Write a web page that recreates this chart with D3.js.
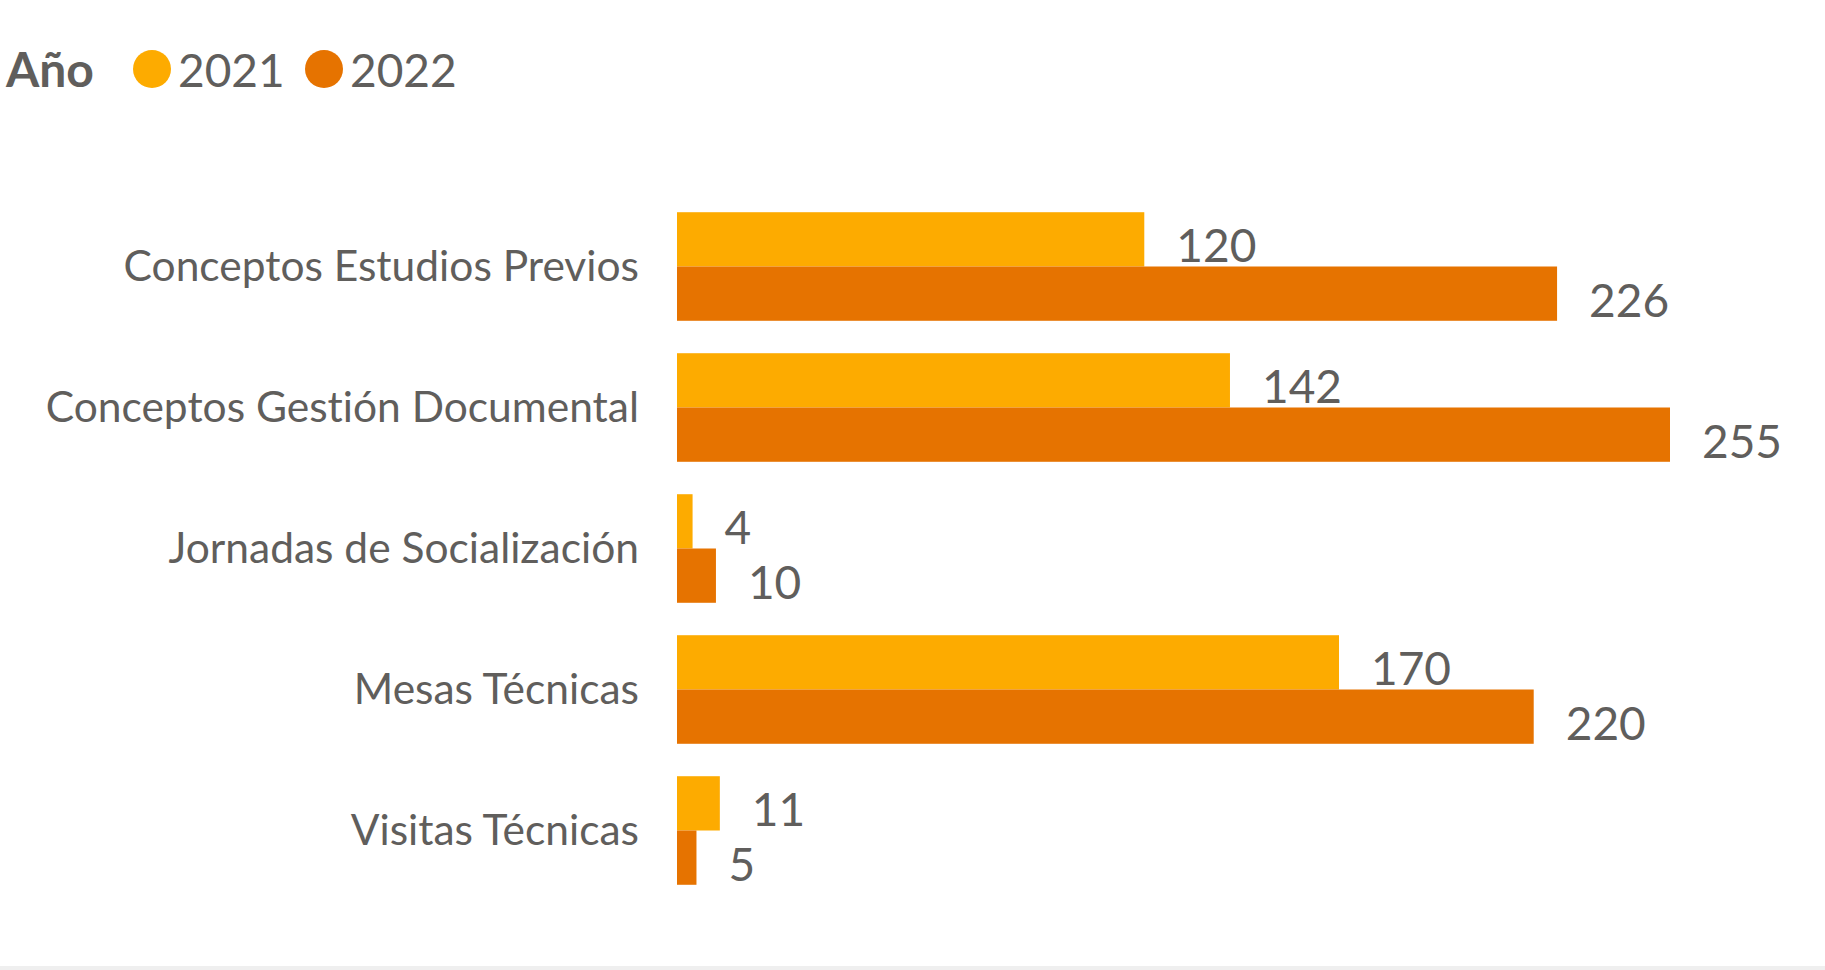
<!DOCTYPE html>
<html>
<head>
<meta charset="utf-8">
<script src="https://cdn.jsdelivr.net/npm/d3@7"></script>
<style>
  html, body { margin: 0; padding: 0; background: #fff; }
  #graph-container { width: 1825px; height: 970px; }
  text {
    font-family: "Segoe UI", Lato, "Open Sans", sans-serif;
    fill: #605E5C;
    font-variant-ligatures: none;
  }
</style>
</head>
<body>
<div id="graph-container"></div>
<script>
// Data
const categories = [
  'Conceptos Estudios Previos',
  'Conceptos Gestión Documental',
  'Jornadas de Socialización',
  'Mesas Técnicas',
  'Visitas Técnicas'
];
const years = ['2021', '2022'];
const values2021 = [120, 142, 4, 170, 11];
const values2022 = [226, 255, 10, 220, 5];
const yearColors = ['#FDAB00', '#E67300'];

const width = 1825;
const height = 970;

const svg = d3.select('#graph-container')
  .append('svg')
  .attr('width', width)
  .attr('height', height);

// bottom strip
svg.append('rect')
  .attr('x', 0)
  .attr('y', height - 4)
  .attr('width', width)
  .attr('height', 4)
  .attr('fill', '#EFEFEF');

const xScale = d3.scaleLinear()
  .domain([0, d3.max(values2022.concat(values2021))])
  .range([677, 1670]);

const yScale = d3.scaleBand()
  .domain(categories)
  .range([196, 901])
  .paddingInner(0.23)
  .paddingOuter(0.115);

const ySub = d3.scaleBand()
  .domain(years)
  .range([0, yScale.bandwidth()]);

const color = d3.scaleOrdinal().domain(years).range(yearColors);

const rows = categories.map((c, i) => ({
  category: c,
  values: [
    {year: '2021', value: values2021[i]},
    {year: '2022', value: values2022[i]}
  ]
}));

// Category axis
const yAxis = d3.axisLeft(yScale).tickSize(0).tickPadding(38);
const axisG = svg.append('g')
  .attr('transform', `translate(${xScale(0)},0)`)
  .call(yAxis);
axisG.select('.domain').remove();
axisG.selectAll('text')
  .style('font-size', '42.5px')
  .attr('fill', '#605E5C')
  .attr('dy', '0.34em');

// Bars
const groups = svg.append('g')
  .selectAll('g')
  .data(rows)
  .join('g')
  .attr('transform', (d) => `translate(0,${yScale(d.category)})`);

groups.selectAll('rect')
  .data((d) => d.values)
  .join('rect')
  .attr('x', xScale(0))
  .attr('y', (d) => ySub(d.year))
  .attr('width', (d) => xScale(d.value) - xScale(0))
  .attr('height', ySub.bandwidth())
  .attr('fill', (d) => color(d.year));

// Data labels
groups.selectAll('text.label')
  .data((d) => d.values)
  .join('text')
  .attr('class', 'label')
  .attr('x', (d) => xScale(d.value) + 32)
  .attr('y', (d) => ySub(d.year) + ySub.bandwidth() / 2 + 23)
  .style('font-size', '46px')
  .text((d) => d.value);

// Legend
const legend = svg.append('g');
legend.append('text')
  .attr('x', 6)
  .attr('y', 87)
  .style('font-size', '48px')
  .style('font-weight', 'bold')
  .text('Año');

const legendX = [152, 324];
years.forEach((y, i) => {
  legend.append('circle')
    .attr('cx', legendX[i])
    .attr('cy', 69)
    .attr('r', 19)
    .attr('fill', color(y));
  legend.append('text')
    .attr('x', legendX[i] + 26)
    .attr('y', 87)
    .style('font-size', '46px')
    .text(y);
});
</script>
</body>
</html>
